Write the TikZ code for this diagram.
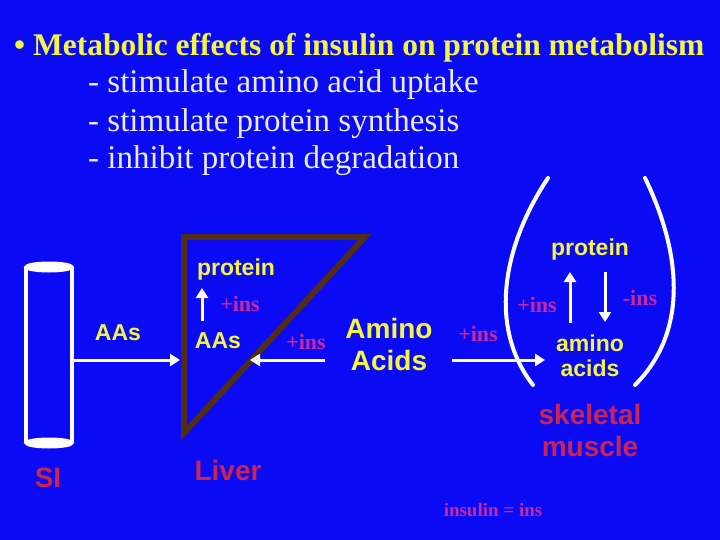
\documentclass[tikz,border=0pt]{standalone}
\usepackage{fontspec}
\setmainfont{Liberation Serif}
\setsansfont{Liberation Sans}
\usetikzlibrary{arrows.meta}
\definecolor{bg}{RGB}{10,10,245}
\definecolor{ylw}{RGB}{245,245,70}
\definecolor{mag}{RGB}{200,40,160}
\definecolor{rd}{RGB}{205,35,80}
\definecolor{brn}{RGB}{80,45,20}
\definecolor{wht}{RGB}{235,235,245}
\tikzset{
  lbl/.style={text=ylw,font=\sffamily\bfseries\fontsize{23}{25}\selectfont,align=center,inner sep=0pt},
  big/.style={text=ylw,font=\sffamily\bfseries\fontsize{28}{32}\selectfont,align=center,inner sep=0pt},
  ins/.style={text=mag,font=\bfseries\fontsize{22}{24}\selectfont,inner sep=0pt},
  org/.style={text=rd,font=\sffamily\bfseries\fontsize{28}{32}\selectfont,align=center,inner sep=0pt},
  arr/.style={draw=white,line width=3pt,-{Triangle[length=10pt,width=12pt]}},
  bullet/.style={text=wht,font=\fontsize{33}{36}\selectfont,anchor=west,inner sep=0pt}
}
\begin{document}
\begin{tikzpicture}[x=1pt,y=-1pt]
\fill[bg] (0,0) rectangle (720,540);
\useasboundingbox (0,0) rectangle (720,540);
\node[text=ylw,font=\bfseries\fontsize{31.5}{34}\selectfont,anchor=west,inner sep=0pt] (title) at (14,48) {• Metabolic effects of insulin on protein metabolism};
\node[bullet] (b1) at (88,85) {- stimulate amino acid uptake};
\node[bullet] (b2) at (88,124) {- stimulate protein synthesis};
\node[bullet] (b3) at (88,161) {- inhibit protein degradation};
% SI tube
\draw[white,line width=4pt] (26,267) -- (26,443) (72,267) -- (72,443);
\draw[white,line width=3pt,fill=white] (49,267) ellipse (23 and 4);
\draw[white,line width=3pt,fill=white] (49,443) ellipse (23 and 4);
\node[org] (si) at (48,478) {SI};
% liver
\draw[brn,line width=6pt,line join=miter] (184,237) -- (365,237) -- (184,433) -- cycle;
\node[org] (liver) at (228,470) {Liver};
\node[lbl] (aas1) at (118,333) {AAs};
\coordinate (siR) at (74,360);
\coordinate (livL) at (180,360);
\draw[arr] (siR) -- (livL);
\node[lbl] (lprot) at (236,270) {protein};
\node[lbl] (laas) at (218,341) {AAs};
\node[ins] (lins) at (240,304) {+ins};
\coordinate (ua) at (202,321);
\coordinate (ub) at (202,288);
\draw[arr] (ua) -- (ub);
\node[big] (amino) at (389,344) {Amino\\Acids};
\coordinate (a1) at (325,360);
\coordinate (a2) at (250,360);
\draw[arr] (a1) -- (a2);
\node[ins] (ins2) at (306,342) {+ins};
\coordinate (a3) at (452,360);
\coordinate (a4) at (545,360);
\draw[arr] (a3) -- (a4);
\node[ins] (ins3) at (478,334) {+ins};
% muscle loop
\draw[white,line width=4pt,line cap=round] (533,385) .. controls (490,330) and (500,250) .. (548,178);
\draw[white,line width=4pt,line cap=round] (635,385) .. controls (690,330) and (680,250) .. (645,178);
\node[lbl] (mprot) at (590,250) {protein};
\node[lbl] (maa) at (590,356) {amino\\acids};
\coordinate (u1) at (570,323);
\coordinate (u2) at (570,272);
\coordinate (d1) at (605,272);
\coordinate (d2) at (605,322);
\draw[arr] (u1) -- (u2);
\draw[arr] (d1) -- (d2);
\node[ins] (ins4) at (537,305) {+ins};
\node[ins] (ins5) at (640,298) {-ins};
\node[org] (musc) at (590,430) {skeletal\\muscle};
\node[text=mag,font=\bfseries\fontsize{19}{22}\selectfont,inner sep=0pt] (leg) at (493,510) {insulin = ins};
\end{tikzpicture}
\end{document}
